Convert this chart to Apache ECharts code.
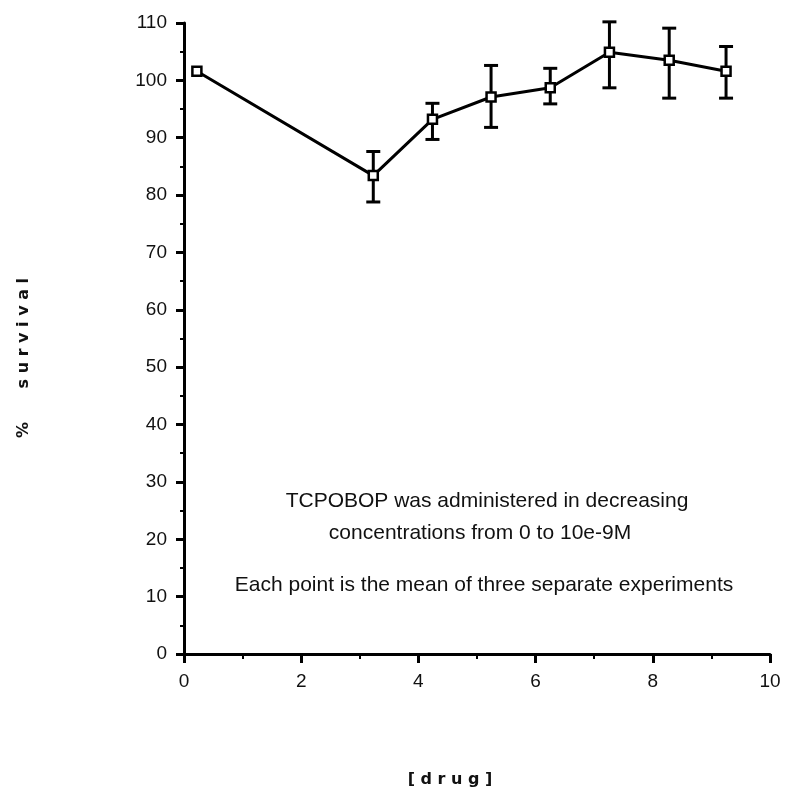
<!DOCTYPE html>
<html>
<head>
<meta charset="utf-8">
<script src="https://cdn.jsdelivr.net/npm/echarts@6/dist/echarts.min.js"></script>
<style>html,body{margin:0;padding:0;background:#fff}#c{width:790px;height:794px}</style>
</head>
<body>
<div id="c"></div>
<script>
// data
var drug = [0.22, 3.23, 4.24, 5.24, 6.25, 7.26, 8.28, 9.25];
var survival = [101.6, 83.4, 93.2, 97.1, 98.7, 104.9, 103.5, 101.6];
var errLow = [101.6, 78.8, 89.7, 91.8, 95.9, 98.7, 96.9, 96.9];
var errHigh = [101.6, 87.6, 96.0, 102.6, 102.1, 110.2, 109.1, 105.9];
var xTicks = [0, 2, 4, 6, 8, 10];
var yTicks = [0, 10, 20, 30, 40, 50, 60, 70, 80, 90, 100, 110];
var noteLines = ['TCPOBOP was administered in decreasing', 'concentrations from 0 to 10e-9M'];
var noteLine3 = 'Each point is the mean of three separate experiments';
var xName = '[ d r u g ]';
var yName = '%      s u r v i v a l';

var FONT = "'Liberation Sans', Arial, sans-serif";
var chart = echarts.init(document.getElementById('c'));

var errData = drug.map(function (x, i) { return [x, errLow[i], errHigh[i]]; });
var lineData = drug.map(function (x, i) { return [x, survival[i]]; });

chart.setOption({
  backgroundColor: '#fff',
  animation: false,
  grid: { left: 184, right: 20, top: 23, bottom: 140, containLabel: false },
  xAxis: {
    type: 'value', min: xTicks[0], max: xTicks[xTicks.length - 1], interval: 2,
    axisLine: { lineStyle: { color: '#000', width: 3 } },
    axisTick: { inside: false, length: 9, lineStyle: { color: '#000', width: 3 } },
    minorTick: { show: true, splitNumber: 2, length: 5, lineStyle: { color: '#000', width: 2 } },
    axisLabel: { margin: 18, fontFamily: FONT, fontSize: 19, color: '#111' },
    splitLine: { show: false }
  },
  yAxis: {
    type: 'value', min: yTicks[0], max: yTicks[yTicks.length - 1], interval: 10,
    axisLine: { lineStyle: { color: '#000', width: 3 } },
    axisTick: { inside: false, length: 8, lineStyle: { color: '#000', width: 3 } },
    minorTick: { show: true, splitNumber: 2, length: 4, lineStyle: { color: '#000', width: 2 } },
    axisLabel: { margin: 17, fontFamily: FONT, fontSize: 19, color: '#111' },
    splitLine: { show: false }
  },
  graphic: [
    { type: 'text', x: 16, y: 278, rotation: Math.PI / 2,
      style: { text: yName, fontFamily: "'DejaVu Sans', sans-serif", fontWeight: 'bold', fontSize: 16, fill: '#111', align: 'right', verticalAlign: 'top' } },
    { type: 'text', x: 450, y: 780, style: { text: xName, fontFamily: "'DejaVu Sans', sans-serif", fontWeight: 'bold', fontSize: 16, fill: '#111', align: 'center', verticalAlign: 'middle' } },
    { type: 'text', x: 487, y: 501, style: { text: noteLines[0], fontFamily: FONT, fontSize: 21, fill: '#111', align: 'center', verticalAlign: 'middle' } },
    { type: 'text', x: 480, y: 533, style: { text: noteLines[1], fontFamily: FONT, fontSize: 21, fill: '#111', align: 'center', verticalAlign: 'middle' } },
    { type: 'text', x: 484, y: 585, style: { text: noteLine3, fontFamily: FONT, fontSize: 21, fill: '#111', align: 'center', verticalAlign: 'middle' } }
  ],
  series: [
    {
      type: 'custom',
      data: errData,
      z: 3,
      renderItem: function (params, api) {
        var x = api.value(0);
        var lo = api.coord([x, api.value(1)]);
        var hi = api.coord([x, api.value(2)]);
        if (Math.abs(lo[1] - hi[1]) < 1) return null;
        var w = 7;
        var st = { stroke: '#000', lineWidth: 3 };
        return {
          type: 'group',
          children: [
            { type: 'line', shape: { x1: lo[0], y1: lo[1], x2: hi[0], y2: hi[1] }, style: st },
            { type: 'line', shape: { x1: lo[0] - w, y1: lo[1], x2: lo[0] + w, y2: lo[1] }, style: st },
            { type: 'line', shape: { x1: hi[0] - w, y1: hi[1], x2: hi[0] + w, y2: hi[1] }, style: st }
          ]
        };
      }
    },
    {
      type: 'line',
      data: lineData,
      z: 5,
      symbol: 'rect',
      symbolSize: 9,
      lineStyle: { color: '#000', width: 3 },
      itemStyle: { color: '#fff', borderColor: '#000', borderWidth: 2.5 }
    }
  ]
});
</script>
</body>
</html>
